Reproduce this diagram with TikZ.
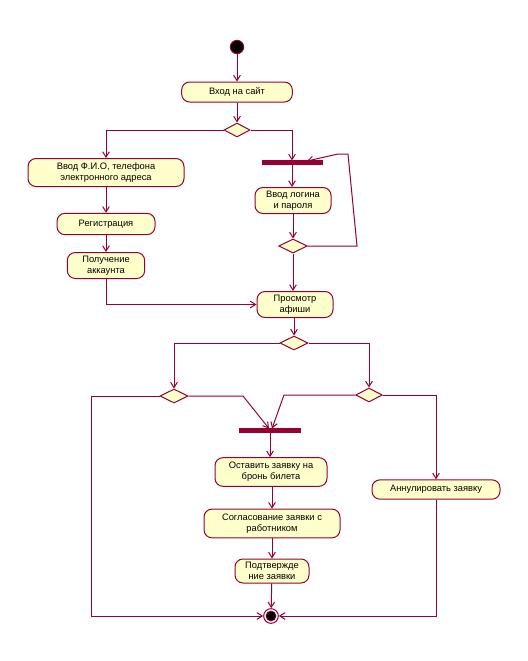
\documentclass[tikz,border=0pt]{standalone}
\usepackage{fontspec}
\setmainfont{Liberation Sans}
\usetikzlibrary{arrows.meta,shapes.geometric}
\definecolor{ln}{RGB}{150,0,50}
\definecolor{fl}{RGB}{255,255,204}
\tikzset{
  act/.style={draw=ln, fill=fl, line width=0.75pt, rounded corners=6pt, inner sep=0pt, align=center,
    font=\fontsize{7}{8.5}\selectfont},
  dec/.style={draw=ln, fill=fl, line width=0.75pt, diamond, inner sep=0pt},
  barnode/.style={draw=ln, fill=ln, inner sep=0pt, minimum height=3pt},
  flow/.style={draw=ln, line width=0.75pt, -{Straight Barb[length=4pt,width=5pt]}},
  plain/.style={draw=ln, line width=0.75pt}
}
\begin{document}
\begin{tikzpicture}[x=0.75pt,y=-0.75pt]
\useasboundingbox (0,0) rectangle (528,661);
% start / end
\node[circle, draw=ln, fill=black, line width=0.75pt, minimum size=10pt, inner sep=0pt] (start) at (237,47) {};
\node[circle, draw=ln, fill=white, line width=0.75pt, minimum size=11pt, inner sep=0pt] (end) at (271,616) {};
\node[circle, draw=ln, fill=black, line width=0.5pt, minimum size=7.5pt, inner sep=0pt] (endin) at (271,616) {};
% activities
\node[act, minimum width=83pt, minimum height=15pt] (site) at (237,92) {Вход на сайт};
\node[act, minimum width=117pt, minimum height=21pt] (fio) at (106,172.5) {Ввод Ф.И.О, телефона\\электронного адреса};
\node[act, minimum width=73.5pt, minimum height=16pt] (reg) at (106,224) {Регистрация};
\node[act, minimum width=58pt, minimum height=19.5pt] (acc) at (106,265.5) {Получение\\аккаунта};
\node[act, minimum width=57pt, minimum height=19.5pt] (login) at (293,200.5) {Ввод логина\\и пароля};
\node[act, minimum width=57pt, minimum height=19.5pt] (view) at (295,304.5) {Просмотр\\афиши};
\node[act, minimum width=84pt, minimum height=21.5pt] (leave) at (271,472) {Оставить заявку на\\бронь билета};
\node[act, minimum width=102pt, minimum height=21.5pt] (agree) at (272,523.5) {Согласование заявки с\\работником};
\node[act, minimum width=55.5pt, minimum height=18pt] (confirm) at (272,571) {Подтвержде\\ние заявки};
\node[act, minimum width=96pt, minimum height=14.5pt] (cancel) at (436,489.5) {Аннулировать заявку};
% bars
\node[barnode, minimum width=45pt] (bar1) at (292,162.7) {};
\node[barnode, minimum width=45.5pt] (bar2) at (270,430.5) {};
% decisions
\node[dec, minimum width=19.5pt, minimum height=10.5pt] (d1) at (237,130) {};
\node[dec, minimum width=21.5pt, minimum height=10.5pt] (d2) at (293,246) {};
\node[dec, minimum width=21pt, minimum height=10.5pt] (d3) at (294,343) {};
\node[dec, minimum width=21pt, minimum height=10.5pt] (d4) at (174,396) {};
\node[dec, minimum width=20pt, minimum height=10.5pt] (d5) at (369,395) {};
% helper coordinates
\coordinate (l1) at (357,246);
\coordinate (l2) at (348,154);
\coordinate (l3) at (338,154);
\coordinate (l4) at (307,161);
\coordinate (k1) at (91,396);
\coordinate (k2) at (243,396);
\coordinate (k3) at (269,428.5);
\coordinate (k4) at (284,395);
\coordinate (k5) at (272,428.5);
% flows
\draw[flow] (start) -- (site);
\draw[flow] (site) -- (d1);
\draw[flow] (d1.west) -| (fio.north);
\draw[flow] (d1.east) -| (bar1.north);
\draw[flow] (bar1) -- (bar1.center |- login.north);
\draw[flow] (fio) -- (reg);
\draw[flow] (reg) -- (acc);
\draw[flow] (login.south) -- (d2.north);
\draw[flow] (d2.east) -- (l1) -- (l2) -- (l3) -- (l4);
\draw[flow] (d2) -- (d2.center |- view.north);
\draw[flow] (acc.south) |- (view.west);
\draw[flow] (view.south -| d3.north) -- (d3.north);
\draw[flow] (d3.west) -| (d4.north);
\draw[flow] (d3.east) -| (d5.north);
\draw[flow] (d4.west) -- (k1) |- (end.west);
\draw[flow] (d4.east) -- (k2) -- (k3);
\draw[flow] (d5.west) -- (k4) -- (k5);
\draw[flow] (d5.east) -| (cancel.north);
\draw[flow] (bar2.center) -- (bar2.center |- leave.north);
\draw[flow] (leave.south -| agree.north) -- (agree.north);
\draw[flow] (agree) -- (confirm);
\draw[flow] (confirm) -- (end);
\draw[flow] (cancel.south) |- (end.east);
\end{tikzpicture}
\end{document}
